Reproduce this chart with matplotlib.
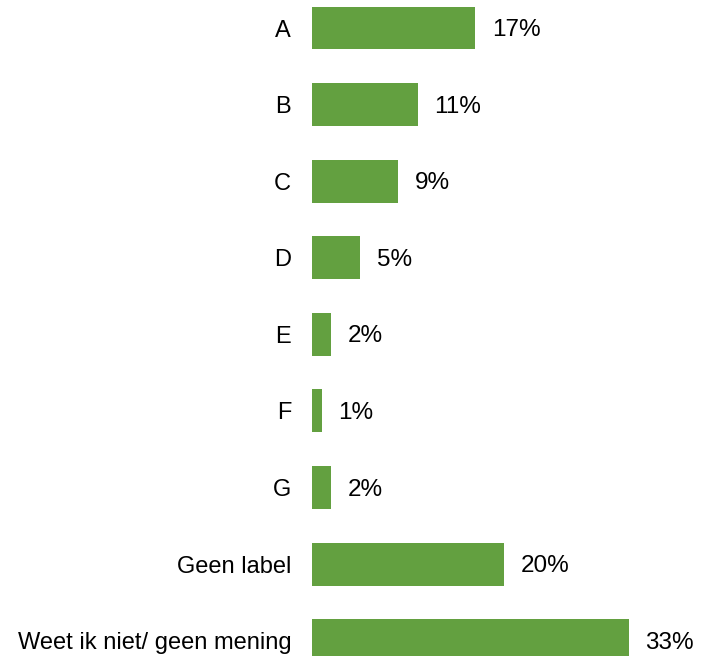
import matplotlib
matplotlib.use('Agg')
import numpy as np
from matplotlib import pyplot as plt

plt.rcParams['font.family'] = ['Liberation Sans', 'DejaVu Sans']

categories = ['A', 'B', 'C', 'D', 'E', 'F', 'G', 'Geen label', 'Weet ik niet/ geen mening']
values = [17, 11, 9, 5, 2, 1, 2, 20, 33]

fig = plt.figure(figsize=(7.03, 6.56), dpi=100)
ax = fig.add_axes([312/703, 0, 391/703, 1])

y = np.arange(len(categories))
bars = ax.barh(y, values, height=0.56, color='#63A040')

ax.set_xlim(0, 391/9.6)
ax.set_ylim(8.2, -0.366)
ax.set_yticks(y)
ax.set_yticklabels(categories, fontsize=17)
ax.tick_params(axis='y', length=0, pad=15)
ax.set_xticks([])
for s in ax.spines.values():
    s.set_visible(False)

# value labels next to bars
for b, v in zip(bars, values):
    ax.annotate(f'{v}%', (b.get_width(), b.get_y() + b.get_height()/2),
                xytext=(12, -1.5), textcoords='offset points',
                va='center', ha='left', fontsize=17.5)

fig.savefig('out.png', dpi=100)
